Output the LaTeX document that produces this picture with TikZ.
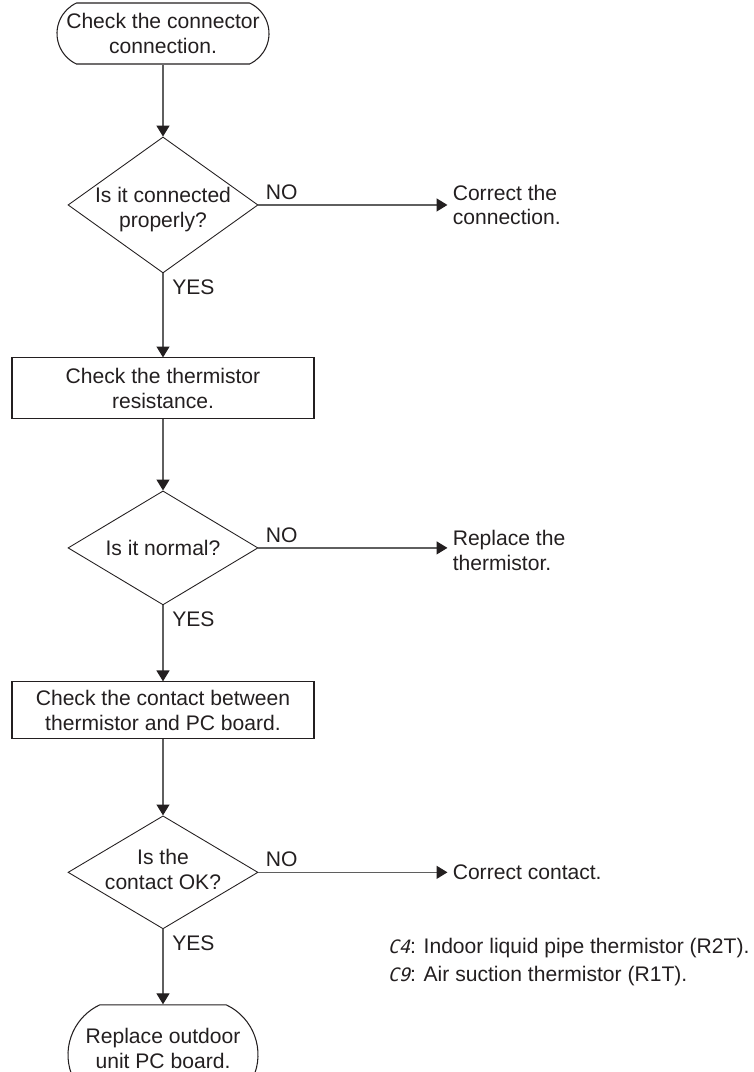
\documentclass[tikz,border=0pt]{standalone}
\usepackage{fontspec}
\setmainfont{Liberation Sans}
\newfontfamily\segfont{DejaVu Sans Mono}[FakeSlant=0.25]
\usepackage{tikz}
\usetikzlibrary{positioning, arrows.meta, shapes.geometric, shapes.misc}

\definecolor{ink}{RGB}{35,31,32}
\definecolor{wire}{RGB}{95,95,95}
\newcommand{\seg}[1]{{\segfont\fontsize{10.5}{12.5}\selectfont #1}}

\begin{document}
\begin{tikzpicture}[
    txt/.style={font=\fontsize{12}{14.2}\selectfont, text=ink, align=center},
    term/.style={draw=ink, rounded rectangle, rounded rectangle arc length=130, inner sep=0pt, line width=0.6pt},
    decide/.style={draw=ink, diamond, minimum width=3.8cm, inner sep=0pt, line width=0.5pt},
    proc/.style={draw=ink, txt, minimum width=6.04cm, line width=0.6pt},
    result/.style={txt, align=left, inner sep=0.1cm},
    yn/.style={txt, inner sep=0pt},
    flow/.style={draw=wire, line width=0.7pt, -{Triangle[length=6.2pt, width=7.4pt, color=ink]}}
]
\useasboundingbox (0,0) rectangle (15.08,-21.44);

\node[term, minimum width=4.24cm, minimum height=1.22cm,
      label={[txt]center:Check the connector\\connection.}] (start) at (3.26,-0.67) {};
\node[decide, minimum height=2.72cm, below=1.44cm of start,
      label={[txt, yshift=-0.1cm]center:Is it connected\\properly?}] (q1) {};
\node[proc, minimum height=1.22cm, below=1.68cm of q1] (chk1) {Check the thermistor\\resistance.};
\node[decide, minimum height=2.28cm, below=1.42cm of chk1,
      label={[txt]center:Is it normal?}] (q2) {};
\node[proc, minimum height=1.14cm, below=1.52cm of q2] (chk2) {Check the contact between\\thermistor and PC board.};
\node[decide, minimum height=2.26cm, below=1.52cm of chk2,
      label={[txt, yshift=0.06cm]center:Is the\\contact OK?}] (q3) {};
\node[term, minimum width=3.8cm, minimum height=2.0cm, below=1.5cm of q3,
      label={[txt, inner sep=0pt, yshift=0.12cm]center:Replace outdoor\\unit PC board.}] (finish) {};

% NO branches
\node[result, right=3.78cm of q1] (fix1) {Correct the\\connection.};
\node[result, right=3.78cm of q2, yshift=-0.06cm] (fix2) {Replace the\\thermistor.};
\node[result, right=3.78cm of q3] (fix3) {Correct contact.};

\foreach \q in {q1,q2,q3} {
    \node[yn, anchor=south west] (no\q) at ([shift={(0.14,0.1)}]\q.east) {NO};
    \node[yn, anchor=north west] (yes\q) at ([shift={(0.18,-0.12)}]\q.south) {YES};
}

\draw[flow] (start) -- (q1);
\draw[flow] (q1) -- (chk1);
\draw[flow] (chk1) -- (q2);
\draw[flow] (q2) -- (chk2);
\draw[flow] (chk2) -- (q3);
\draw[flow] (q3) -- (finish);
\draw[flow] (q1.east) -- (q1.east -| fix1.west);
\draw[flow] (q2.east) -- (q2.east -| fix2.west);
\draw[flow] (q3.east) -- (q3.east -| fix3.west);

\node[txt, font=\fontsize{12}{16}\selectfont, align=left, anchor=west, inner sep=0pt] (key)
    at ([shift={(2.58,-1.79)}]q3.east)
    {\seg{C4}: Indoor liquid pipe thermistor (R2T).\\\seg{C9}: Air suction thermistor (R1T).};
\end{tikzpicture}
\end{document}
